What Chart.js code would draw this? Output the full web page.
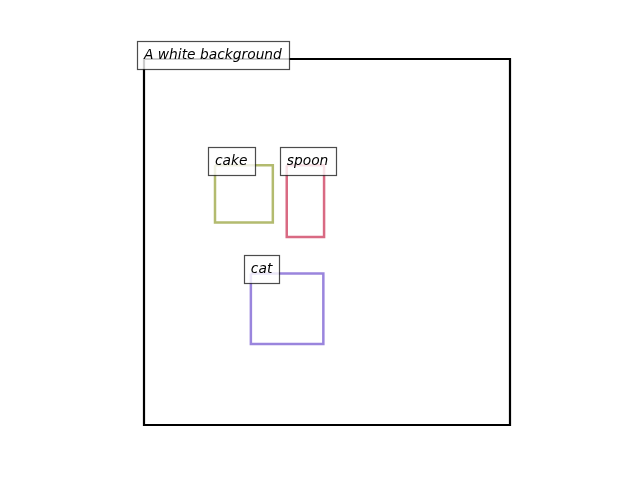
<!DOCTYPE html>
<html>
<head>
<meta charset="utf-8">
<script src="https://cdn.jsdelivr.net/npm/chart.js@4.4.1/dist/chart.umd.min.js"></script>
<style>
html,body{margin:0;padding:0;background:#fff;}
#wrap{width:640px;height:480px;}
</style>
</head>
<body>
<div id="wrap"><canvas id="c" width="640" height="480"></canvas></div>
<script>
// Image frame (data units 0..100, y downward)
const frameLabel = 'A white background';
const frameBox = [0, 0, 100, 100];

// Detected boxes
const boxLabels = ['cake', 'spoon', 'cat'];
const boxX0 = [19.4, 39.0, 29.2];
const boxY0 = [29.0, 29.0, 58.6];
const boxX1 = [35.2, 49.2, 49.0];
const boxY1 = [44.7, 48.6, 77.9];
const boxColors = ['#b3bb6f', '#d96a83', '#9a85dd'];

function rectPoints(x0, y0, x1, y1) {
  return [{x:x0,y:y0},{x:x1,y:y0},{x:x1,y:y1},{x:x0,y:y1},{x:x0,y:y0}];
}

const datasets = [{
  label: frameLabel,
  data: rectPoints(frameBox[0], frameBox[1], frameBox[2], frameBox[3]),
  borderColor: '#000',
  borderWidth: 2.2,
  showLine: true,
  pointRadius: 0,
  fill: false,
  tension: 0,
  clip: false
}];
boxLabels.forEach((lab, i) => {
  datasets.push({
    label: lab,
    data: rectPoints(boxX0[i], boxY0[i], boxX1[i], boxY1[i]),
    borderColor: boxColors[i],
    borderWidth: 2.5,
    showLine: true,
    pointRadius: 0,
    fill: false,
    tension: 0,
    clip: false
  });
});

const labelPlugin = {
  id: 'boxLabels',
  afterDatasetsDraw(chart) {
    const ctx = chart.ctx;
    const xs = chart.scales.x, ys = chart.scales.y;
    const items = [{t: frameLabel, x: frameBox[0], y: frameBox[1]}];
    boxLabels.forEach((lab, i) => items.push({t: lab, x: boxX0[i], y: boxY0[i]}));
    ctx.save();
    ctx.font = 'italic 13.8px "DejaVu Sans"';
    ctx.textBaseline = 'alphabetic';
    ctx.textAlign = 'left';
    items.forEach(it => {
      const px = xs.getPixelForValue(it.x);
      const py = ys.getPixelForValue(it.y);
      const w = ctx.measureText(it.t).width;
      const bx = Math.round(px - 7) + 0.5, by = Math.round(py - 18.5) + 0.5;
      const bw = Math.round(w + 14), bh = 28;
      ctx.fillStyle = 'rgba(255,255,255,0.8)';
      ctx.fillRect(bx, by, bw, bh);
      ctx.strokeStyle = 'rgba(0,0,0,0.7)';
      ctx.lineWidth = 1.2;
      ctx.strokeRect(bx, by, bw, bh);
      ctx.fillStyle = '#000';
      ctx.fillText(it.t, px, py);
    });
    ctx.restore();
  }
};

new Chart(document.getElementById('c'), {
  type: 'scatter',
  data: { datasets },
  options: {
    responsive: false,
    animation: false,
    devicePixelRatio: 1,
    layout: { padding: { left: 144, right: 130, top: 59, bottom: 55 } },
    plugins: { legend: { display: false }, tooltip: { enabled: false } },
    scales: {
      x: { type: 'linear', min: 0, max: 100, display: false },
      y: { type: 'linear', min: 0, max: 100, reverse: true, display: false }
    }
  },
  plugins: [labelPlugin]
});
</script>
</body>
</html>
